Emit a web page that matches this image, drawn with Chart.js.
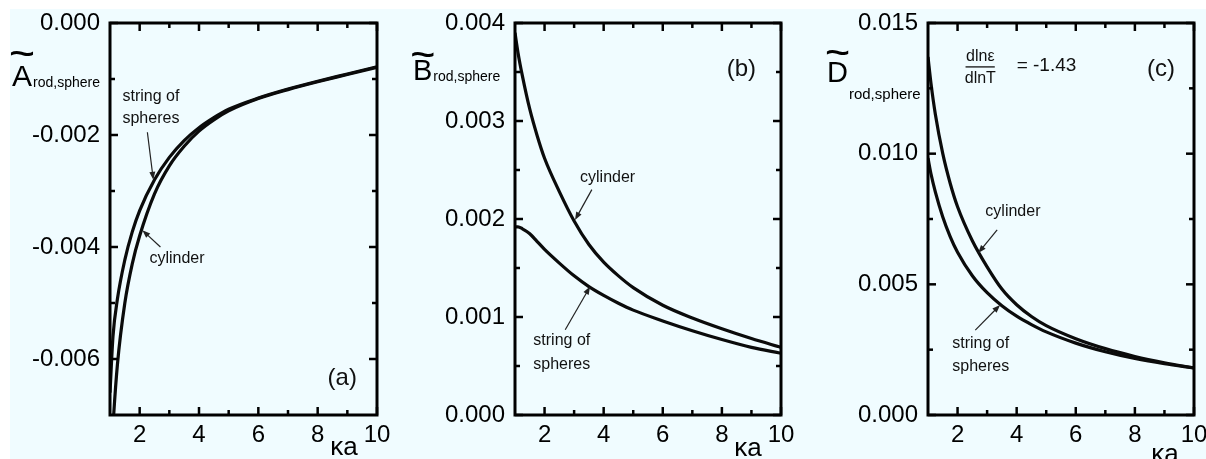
<!DOCTYPE html>
<html><head><meta charset="utf-8">
<script src="https://cdn.jsdelivr.net/npm/chart.js@4.4.1/dist/chart.umd.min.js"></script>
<style>
html,body{margin:0;padding:0;background:#fff;width:1206px;height:459px;overflow:hidden}
#bg{position:absolute;left:10px;top:9px;width:1196px;height:450px;background:#F0FCFF}
canvas{position:absolute;top:0}
</style></head><body>
<div id="bg"></div>
<canvas id="ca" width="400" height="459" style="left:0px"></canvas>
<canvas id="cb" width="400" height="459" style="left:400px"></canvas>
<canvas id="cc" width="406" height="459" style="left:800px"></canvas>
<script>
// ---- data ----
const kappa = [1, 1.1, 1.25, 1.5, 1.75, 2, 2.5, 3, 3.5, 4, 4.5, 5, 6, 7, 8, 9, 10];
const aSpheres  = [-0.0066,-0.0056,-0.00493,-0.00423,-0.00373,-0.00335,-0.0028,-0.0024,-0.0021,-0.00187,-0.00169,-0.00154,-0.00134,-0.00118,-0.00104,-0.00091,-0.00078];
const aCylinder = [-0.0082,-0.0072,-0.0061,-0.0050,-0.0043,-0.0038,-0.00305,-0.00255,-0.0022,-0.00193,-0.00173,-0.00157,-0.00135,-0.00119,-0.00105,-0.00092,-0.00079];
const bSpheres  = [0.00192,0.00192,0.0019,0.00185,0.00177,0.00169,0.00155,0.00142,0.00131,0.00122,0.00114,0.00107,0.00096,0.00086,0.00077,0.00069,0.00063];
const bCylinder = [0.0039,0.0037,0.00346,0.00312,0.00285,0.00262,0.00228,0.00198,0.00174,0.00156,0.00142,0.0013,0.00112,0.00099,0.00088,0.00078,0.00069];
const cSpheres  = [0.00983,0.00923,0.00853,0.00758,0.00683,0.00623,0.00533,0.00468,0.00418,0.00378,0.00346,0.00318,0.00275,0.00242,0.00216,0.00196,0.0018];
const cCylinder = [0.0137,0.0127,0.0115,0.0100,0.00887,0.00797,0.00667,0.00567,0.00482,0.00422,0.00377,0.00342,0.00292,0.00254,0.00224,0.0020,0.0018];

const xTicks = [2, 4, 6, 8, 10];
const xMinor = [3, 5, 7, 9];
const yTicksA = [-0.006, -0.004, -0.002, 0.000];
const yMinorA = [-0.005, -0.003, -0.001];
const yTicksB = [0.000, 0.001, 0.002, 0.003, 0.004];
const yMinorB = [0.0005, 0.0015, 0.0025, 0.0035];
const yTicksC = [0.000, 0.005, 0.010, 0.015];
const yMinorC = [0.0025, 0.0075, 0.0125];

Chart.defaults.font.family = "'Liberation Sans', Arial, sans-serif";
Chart.defaults.color = '#000';
const FONT = "'Liberation Sans', Arial, sans-serif";

const decor = {
  id: 'decor',
  afterDatasetsDraw(chart, args, o) {
    const {ctx, chartArea: a, scales: {x, y}} = chart;
    ctx.save();
    ctx.strokeStyle = '#000';
    ctx.lineWidth = 3;
    ctx.strokeRect(a.left, a.top, a.right - a.left, a.bottom - a.top);
    ctx.lineWidth = 2.5;
    const seg = (x1, y1, x2, y2) => { ctx.beginPath(); ctx.moveTo(x1, y1); ctx.lineTo(x2, y2); ctx.stroke(); };
    o.xMajor.forEach(v => { const p = x.getPixelForValue(v); seg(p, a.bottom, p, a.bottom - 8); seg(p, a.top, p, a.top + 8); });
    o.xMinor.forEach(v => { const p = x.getPixelForValue(v); seg(p, a.bottom, p, a.bottom - 5); seg(p, a.top, p, a.top + 5); });
    o.yMajor.forEach(v => { const p = y.getPixelForValue(v); seg(a.left, p, a.left + 8, p); seg(a.right, p, a.right - 8, p); });
    o.yMinor.forEach(v => { const p = y.getPixelForValue(v); seg(a.left, p, a.left + 5, p); seg(a.right, p, a.right - 5, p); });
    ctx.fillStyle = '#111';
    ctx.textBaseline = 'middle';
    o.notes.forEach(n => {
      if (n.t === 'text') {
        ctx.font = n.size + 'px ' + FONT;
        ctx.textAlign = n.align || 'left';
        ctx.fillText(n.s, x.getPixelForValue(n.x), y.getPixelForValue(n.y));
      } else if (n.t === 'bar') {
        ctx.lineWidth = 1.3; ctx.strokeStyle = '#111';
        seg(x.getPixelForValue(n.x1), y.getPixelForValue(n.y), x.getPixelForValue(n.x2), y.getPixelForValue(n.y));
      } else if (n.t === 'arrow') {
        const x1 = x.getPixelForValue(n.x1), y1 = y.getPixelForValue(n.y1);
        const x2 = x.getPixelForValue(n.x2), y2 = y.getPixelForValue(n.y2);
        const ang = Math.atan2(y2 - y1, x2 - x1);
        ctx.lineWidth = 1.2; ctx.strokeStyle = '#222';
        seg(x1, y1, x2 - 5 * Math.cos(ang), y2 - 5 * Math.sin(ang));
        ctx.beginPath();
        ctx.moveTo(x2, y2);
        ctx.lineTo(x2 - 8 * Math.cos(ang) + 3 * Math.sin(ang), y2 - 8 * Math.sin(ang) - 3 * Math.cos(ang));
        ctx.lineTo(x2 - 8 * Math.cos(ang) - 3 * Math.sin(ang), y2 - 8 * Math.sin(ang) + 3 * Math.cos(ang));
        ctx.closePath(); ctx.fillStyle = '#222'; ctx.fill();
        ctx.fillStyle = '#111';
      }
    });
    const t = o.title;
    ctx.fillStyle = '#000';
    ctx.textBaseline = 'alphabetic';
    ctx.textAlign = 'left';
    ctx.font = t.size + 'px ' + FONT;
    ctx.fillText(t.letter, t.x, t.base);
    const lw = ctx.measureText(t.letter).width;
    ctx.save();
    ctx.translate(t.x + lw / 2, t.tildeY);
    ctx.scale(1.45, 1);
    ctx.textAlign = 'center';
    ctx.textBaseline = 'middle';
    ctx.font = 'bold ' + t.size + 'px ' + FONT;
    ctx.fillText('~', 0, 4);
    ctx.restore();
    ctx.font = t.subSize + 'px ' + FONT;
    ctx.fillText('rod,sphere', t.x + lw + 1, t.subBase);
    ctx.font = '26px ' + FONT;
    ctx.textAlign = 'center';
    ctx.textBaseline = 'middle';
    ctx.fillText('κa', a.right + o.ka[0], a.bottom + o.ka[1]);
    ctx.restore();
  }
};

function panel(id, p) {
  return new Chart(document.getElementById(id), {
    type: 'line',
    data: {
      datasets: [p.spheres, p.cylinder].map(s => ({
        data: kappa.map((k, i) => ({x: k, y: s[i]})),
        borderColor: '#0b0b0b', borderWidth: 3.2, pointRadius: 0,
        cubicInterpolationMode: 'monotone', fill: false
      }))
    },
    plugins: [decor],
    options: {
      responsive: false, animation: false,
      layout: {padding: {top: 23, right: p.pr, left: 0, bottom: 0}},
      plugins: {legend: {display: false}, tooltip: {enabled: false},
        decor: {xMajor: xTicks, xMinor: xMinor, yMajor: p.yTicks, yMinor: p.yMinor, notes: p.notes, title: p.title, ka: p.ka}},
      scales: {
        x: {type: 'linear', min: 1, max: 10,
            grid: {display: false, drawTicks: false}, border: {display: false},
            ticks: {font: {size: 24}, color: '#000', padding: 6, maxRotation: 0, autoSkip: false, callback: v => String(v)},
            afterBuildTicks: s => { s.ticks = xTicks.map(v => ({value: v})); },
            afterFit: s => { s.height = 44; s.paddingLeft = 0; s.paddingRight = 0; }},
        y: {type: 'linear', min: p.ymin, max: p.ymax,
            grid: {display: false, drawTicks: false}, border: {display: false},
            ticks: {font: {size: 24}, color: '#000', padding: 10, autoSkip: false, callback: v => v.toFixed(3)},
            afterBuildTicks: s => { s.ticks = p.yTicks.map(v => ({value: v})); },
            afterFit: s => { s.width = p.yw; s.paddingTop = 0; s.paddingBottom = 0; }}
      }
    }
  });
}

panel('ca', {
  spheres: aSpheres, cylinder: aCylinder, ymin: -0.007, ymax: 0, yTicks: yTicksA, yMinor: yMinorA, yw: 110, pr: 23,
  title: {letter: 'A', x: 12, base: 86, tildeY: 52, size: 30, subSize: 14, subBase: 87},
  ka: [-33, 33],
  notes: [
    {t: 'text', s: 'string of', x: 1.42, y: -0.00132, size: 16},
    {t: 'text', s: 'spheres', x: 1.42, y: -0.00171, size: 16},
    {t: 'arrow', x1: 2.26, y1: -0.00195, x2: 2.46, y2: -0.0028},
    {t: 'text', s: 'cylinder', x: 2.33, y: -0.00421, size: 16},
    {t: 'arrow', x1: 2.7, y1: -0.0040, x2: 2.09, y2: -0.0037},
    {t: 'text', s: '(a)', x: 8.83, y: -0.00634, size: 24, align: 'center'}
  ]
});
panel('cb', {
  spheres: bSpheres, cylinder: bCylinder, ymin: 0, ymax: 0.004, yTicks: yTicksB, yMinor: yMinorB, yw: 115, pr: 19,
  title: {letter: 'B', x: 13, base: 80, tildeY: 52, size: 29, subSize: 14, subBase: 81},
  ka: [-33, 34],
  notes: [
    {t: 'text', s: '(b)', x: 8.66, y: 0.00353, size: 24, align: 'center'},
    {t: 'text', s: 'cylinder', x: 3.2, y: 0.00242, size: 16},
    {t: 'arrow', x1: 3.6, y1: 0.0023, x2: 3.03, y2: 0.00199},
    {t: 'text', s: 'string of', x: 1.62, y: 0.000755, size: 16},
    {t: 'text', s: 'spheres', x: 1.62, y: 0.00051, size: 16},
    {t: 'arrow', x1: 2.7, y1: 0.00087, x2: 3.54, y2: 0.00131}
  ]
});
panel('cc', {
  spheres: cSpheres, cylinder: cCylinder, ymin: 0, ymax: 0.015, yTicks: yTicksC, yMinor: yMinorC, yw: 128, pr: 12,
  title: {letter: 'D', x: 27, base: 82, tildeY: 50, size: 29, subSize: 15, subBase: 99},
  ka: [-29, 40],
  notes: [
    {t: 'text', s: '(c)', x: 8.88, y: 0.01324, size: 24, align: 'center'},
    {t: 'text', s: 'dlnε', x: 2.77, y: 0.0137, size: 16, align: 'center'},
    {t: 'bar', x1: 2.27, x2: 3.26, y: 0.01332},
    {t: 'text', s: 'dlnT', x: 2.77, y: 0.01286, size: 16, align: 'center'},
    {t: 'text', s: '= -1.43', x: 4.0, y: 0.01335, size: 19},
    {t: 'text', s: 'cylinder', x: 2.94, y: 0.00777, size: 16},
    {t: 'arrow', x1: 3.34, y1: 0.00708, x2: 2.7, y2: 0.0062},
    {t: 'text', s: 'string of', x: 1.82, y: 0.00272, size: 16},
    {t: 'text', s: 'spheres', x: 1.82, y: 0.00184, size: 16},
    {t: 'arrow', x1: 2.6, y1: 0.00325, x2: 3.44, y2: 0.00421}
  ]
});
</script>
</body></html>
